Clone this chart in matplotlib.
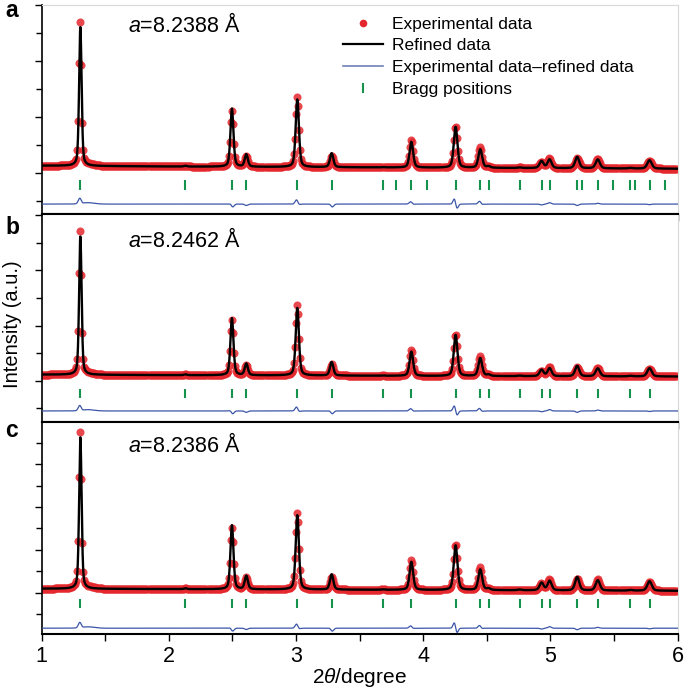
import numpy as np
import matplotlib
matplotlib.use("Agg")
import matplotlib.pyplot as plt
from matplotlib.lines import Line2D
from matplotlib.ticker import MultipleLocator

plt.rcParams['font.family'] = ['Liberation Sans', 'DejaVu Sans']
plt.rcParams['mathtext.fontset'] = 'custom'
plt.rcParams['mathtext.it'] = 'Liberation Sans:italic'
plt.rcParams['mathtext.rm'] = 'Liberation Sans'

# ---------------- data ----------------
panel_letters = ['a', 'b', 'c']
lattice_labels = ['8.2388', '8.2462', '8.2386']

peak_pos = [1.304, 2.130, 2.496, 2.609, 3.010, 3.280, 3.683, 3.907, 4.255,
            4.449, 4.514, 4.758, 4.931, 4.994, 5.211, 5.373, 5.630, 5.780]
peak_fwhm = [0.023, 0.027, 0.028, 0.029, 0.030, 0.031, 0.032, 0.033, 0.034,
             0.035, 0.035, 0.036, 0.037, 0.037, 0.038, 0.039, 0.040, 0.041]

amp_a = [4.97, 0.03, 2.08, 0.44, 2.42, 0.50, 0.01, 0.92, 1.46,
         0.66, 0.05, 0.02, 0.25, 0.31, 0.41, 0.32, 0.02, 0.30]
amp_b = [5.02, 0.03, 2.07, 0.42, 2.45, 0.49, 0.01, 0.88, 1.49,
         0.65, 0.05, 0.02, 0.23, 0.29, 0.38, 0.29, 0.02, 0.30]
amp_c = [7.05, 0.04, 2.98, 0.62, 3.46, 0.71, 0.02, 1.30, 2.08,
         0.96, 0.07, 0.03, 0.35, 0.44, 0.63, 0.48, 0.03, 0.44]

bg_x = [1.0, 2.0, 3.0, 4.0, 5.0, 6.0]
bg_a = [0.25, 0.22, 0.20, 0.18, 0.16, 0.14]
bg_b = [0.22, 0.20, 0.19, 0.17, 0.16, 0.15]
bg_c = [0.20, 0.18, 0.16, 0.14, 0.12, 0.10]

diff_amp_a = [0.17, 0.0, -0.08, -0.05, 0.12, -0.09, 0.0, 0.07, 0.03,
              0.08, 0.0, 0.0, -0.03, 0.05, -0.05, 0.03, 0.0, -0.02]
diff_der_a = [0.05, 0.0, 0.04, 0.0, 0.06, 0.03, 0.0, 0.03, 0.16,
              0.04, 0.0, 0.0, 0.0, 0.0, 0.0, 0.0, 0.0, 0.0]
diff_amp_b = [0.16, 0.0, -0.08, -0.05, 0.11, -0.09, 0.0, 0.07, 0.03,
              0.07, 0.0, 0.0, -0.03, 0.05, -0.05, 0.03, 0.0, -0.02]
diff_der_b = [0.05, 0.0, 0.04, 0.0, 0.06, 0.03, 0.0, 0.03, 0.16,
              0.04, 0.0, 0.0, 0.0, 0.0, 0.0, 0.0, 0.0, 0.0]
diff_amp_c = [0.22, 0.0, -0.11, -0.06, 0.15, -0.12, 0.0, 0.09, 0.04,
              0.10, 0.0, 0.0, -0.04, 0.07, -0.07, 0.04, 0.0, -0.03]
diff_der_c = [0.06, 0.0, 0.05, 0.0, 0.08, 0.04, 0.0, 0.04, 0.22,
              0.05, 0.0, 0.0, 0.0, 0.0, 0.0, 0.0, 0.0, 0.0]

bragg_a = [1.304, 2.130, 2.496, 2.609, 3.010, 3.285, 3.683, 3.789, 3.907,
           4.029, 4.255, 4.449, 4.514, 4.758, 4.931, 4.994, 5.211, 5.248,
           5.373, 5.494, 5.630, 5.662, 5.780, 5.898]
bragg_bc = [1.304, 2.130, 2.496, 2.609, 3.010, 3.285, 3.683, 3.907, 4.255,
            4.449, 4.514, 4.758, 4.931, 4.994, 5.211, 5.373, 5.630, 5.780]

# per-panel layout values (y units of each panel)
ylims = [(-1.48, 6.0), (-1.49, 6.05), (-1.91, 7.97)]
bragg_y = [(-0.63, -0.27), (-0.62, -0.29), (-0.70, -0.28)]
diff_zero = [-1.125, -1.10, -1.64]
text_y = [5.02, 4.86, 6.57]

amps = [amp_a, amp_b, amp_c]
bgs = [bg_a, bg_b, bg_c]
diff_amps = [diff_amp_a, diff_amp_b, diff_amp_c]
diff_ders = [diff_der_a, diff_der_b, diff_der_c]
braggs = [bragg_a, bragg_bc, bragg_bc]

RED = '#e4282e'
BLUE = '#3a55a8'
GREEN = '#15924b'


def profile(x, amp, bg):
    y = np.interp(x, bg_x, bg)
    eta = 0.4
    for p, w, a in zip(peak_pos, peak_fwhm, amp):
        d = (x - p) / w
        g = np.exp(-4 * np.log(2) * d ** 2)
        l = 1.0 / (1.0 + 4 * d ** 2)
        y = y + a * (eta * l + (1 - eta) * g)
    return y


def difference(x, da, dd):
    y = np.zeros_like(x)
    for p, a, b in zip(peak_pos, da, dd):
        s = 0.012
        g = np.exp(-0.5 * ((x - p) / s) ** 2)
        y = y + a * g - b * 1.65 * (x - p) / s * g
    # slow tail to the right of the main peak
    y = y + da[0] * 0.3 * np.exp(-0.5 * ((x - 1.36) / 0.05) ** 2)
    return y


x_exp = np.arange(1.0, 6.0 + 1e-9, 0.008)
x_fit = np.linspace(1.0, 6.0, 6001)

fig = plt.figure(figsize=(6.85, 6.92), dpi=100)
L, R = 41.7 / 685, 677.5 / 685
tops_px = [5, 214, 421.7]
bots_px = [214, 421.7, 634]

axes = []
for i in range(3):
    b = 1 - bots_px[i] / 692
    h = (bots_px[i] - tops_px[i]) / 692
    ax = fig.add_axes([L, b, R - L, h])
    axes.append(ax)

    fit = profile(x_fit, amps[i], bgs[i])
    exp_diff = difference(x_exp, diff_amps[i], diff_ders[i])
    exp = profile(x_exp, amps[i], bgs[i]) + exp_diff
    dline = difference(x_fit, diff_amps[i], diff_ders[i]) + diff_zero[i]

    ax.plot(x_exp, exp, 'o', color=RED, ms=5.8, mec='none', alpha=0.85, zorder=2)
    ax.plot(x_fit, fit, '-', color='black', lw=1.7, zorder=3)
    ax.plot(x_fit, dline, '-', color=BLUE, lw=0.9, zorder=3)
    ax.vlines(braggs[i], bragg_y[i][0], bragg_y[i][1], color=GREEN, lw=1.5, zorder=3)

    ax.set_xlim(1, 6)
    ax.set_ylim(*ylims[i])

    ax.xaxis.set_major_locator(MultipleLocator(1))
    ax.xaxis.set_minor_locator(MultipleLocator(0.5))
    ax.yaxis.set_major_locator(MultipleLocator(2))
    ax.yaxis.set_minor_locator(MultipleLocator(1))
    ax.tick_params(axis='x', which='both', direction='out', length=5, width=1.0,
                   labelsize=15.5, pad=4, top=False)
    ax.tick_params(axis='y', which='major', direction='out', length=5, width=1.0)
    ax.tick_params(axis='y', which='minor', direction='out', length=4, width=1.0)
    ax.tick_params(axis='y', which='both', labelleft=False)
    if i < 2:
        ax.tick_params(axis='x', which='both', labelbottom=False)

    ax.spines['left'].set_linewidth(1.2)
    ax.spines['bottom'].set_linewidth(1.5)
    ax.spines['right'].set_color('#d9d9d9')
    ax.spines['right'].set_linewidth(0.8)
    if i == 0:
        ax.spines['top'].set_color('#d9d9d9')
        ax.spines['top'].set_linewidth(0.8)
    else:
        ax.spines['top'].set_linewidth(1.5)

    ax.text(1.679, text_y[i], r'$a$=' + lattice_labels[i] + ' Å', fontsize=15.5,
            ha='left', va='baseline')

axes[2].set_xlabel(r'2$\it{\theta}$/degree', fontsize=15, labelpad=-1)

# panel letters
letter_base = [17, 234, 437]
for lt, yb in zip(panel_letters, letter_base):
    fig.text(5 / 685, 1 - yb / 692, lt, fontsize=16.5, fontweight='bold',
             ha='left', va='baseline')

fig.text(12 / 685, 1 - 324 / 692, 'Intensity (a.u.)', rotation=90, fontsize=14.5,
         ha='center', va='center')

handles = [
    Line2D([], [], marker='o', color=RED, ls='none', ms=5.5, mec='none'),
    Line2D([], [], color='black', lw=1.6),
    Line2D([], [], color='#6f80b5', lw=1.2),
    Line2D([], [], marker='|', color=GREEN, ls='none', ms=7, mew=1.5),
]
labels = ['Experimental data', 'Refined data',
          'Experimental data\u2013refined data', 'Bragg positions']
axes[0].legend(handles, labels, loc='upper left', bbox_to_anchor=(0.474, 0.945),
               frameon=False, fontsize=12.5, borderpad=0, borderaxespad=0,
               handlelength=2.3, handletextpad=0.5, labelspacing=0.38)

fig.savefig('out.png', dpi=100)
